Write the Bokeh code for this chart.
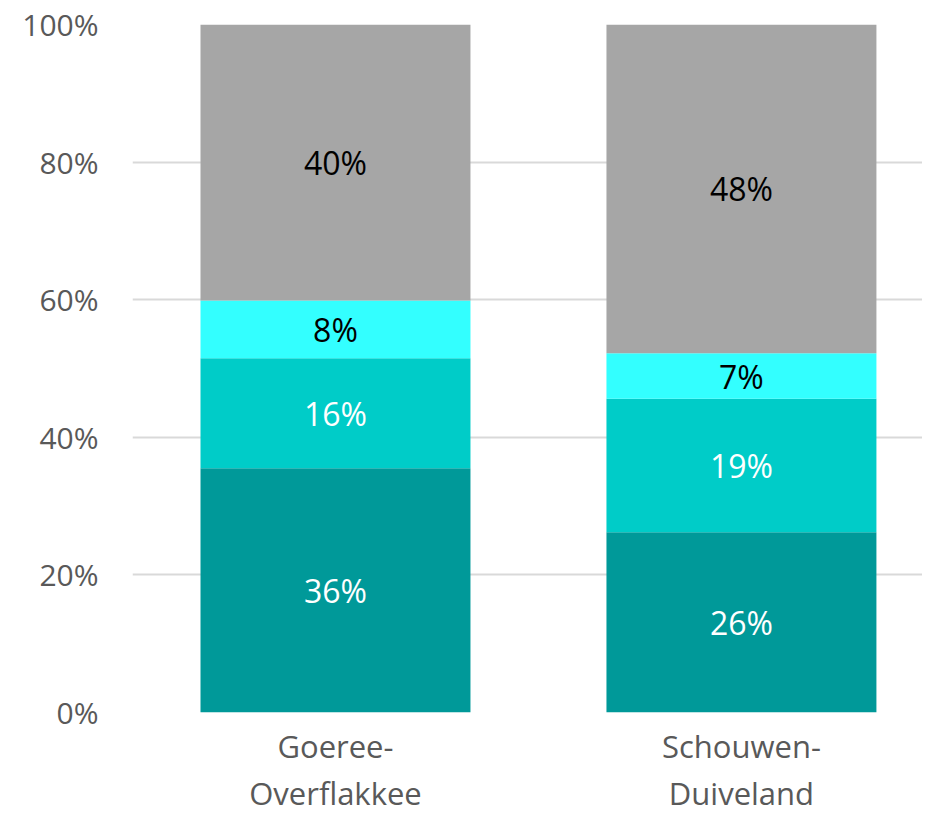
from bokeh.plotting import figure
from bokeh.models import ColumnDataSource, NumeralTickFormatter, FixedTicker, Range1d
from bokeh.core.properties import value
from bokeh.embed import file_html
from bokeh.resources import INLINE

categories = ["Goeree-\nOverflakkee", "Schouwen-\nDuiveland"]
s1 = [0.355, 0.262]
s2 = [0.160, 0.194]
s3 = [0.084, 0.066]
s4 = [0.401, 0.478]
labels1 = ["36%", "26%"]
labels2 = ["16%", "19%"]
labels3 = ["8%", "7%"]
labels4 = ["40%", "48%"]
colors = ["#009999", "#00CCC8", "#33FFFF", "#A6A6A6"]
label_colors = ["white", "white", "black", "black"]
y_ticks = [0, 0.2, 0.4, 0.6, 0.8, 1.0]

FONT = "Open Sans"
series = ["s1", "s2", "s3", "s4"]
xpos = list(range(len(categories)))

p = figure(x_range=Range1d(-0.5, 1.446), y_range=Range1d(0, 1.0),
           width=922, height=816, output_backend="svg", toolbar_location=None,
           min_border_left=132, min_border_right=0, min_border_top=24, min_border_bottom=104)
p.outline_line_color = None
p.background_fill_color = "white"

data = {"x": xpos, "s1": s1, "s2": s2, "s3": s3, "s4": s4}
src = ColumnDataSource(data)
p.vbar_stack(series, x="x", width=0.665, color=colors, source=src, line_color=None)

all_vals = [s1, s2, s3, s4]
all_labels = [labels1, labels2, labels3, labels4]
for i in range(4):
    mids = []
    for j in range(len(categories)):
        base = sum(all_vals[k][j] for k in range(i))
        mids.append(base + all_vals[i][j] / 2)
    p.text(x=xpos, y=mids, text=all_labels[i], text_align="center",
           text_baseline="middle", text_color=label_colors[i],
           text_font=value(FONT), text_font_size="32px")

p.xgrid.grid_line_color = None
p.ygrid.grid_line_color = "#D9D9D9"
p.ygrid.grid_line_width = 2
p.xaxis.ticker = FixedTicker(ticks=xpos)
p.xaxis.major_label_overrides = {i: c for i, c in zip(xpos, categories)}
p.yaxis.ticker = FixedTicker(ticks=y_ticks)
p.yaxis.formatter = NumeralTickFormatter(format="0%")
for ax in (p.xaxis, p.yaxis):
    ax.axis_line_color = None
    ax.major_tick_line_color = None
    ax.minor_tick_line_color = None
    ax.major_label_text_font = FONT
    ax.major_label_text_color = "#595959"
p.yaxis.major_label_text_font_size = "30px"
p.yaxis.major_label_standoff = 28
p.xaxis.major_label_text_font_size = "31px"
p.xaxis.major_label_text_line_height = 1.12
p.xaxis.major_label_standoff = 6

open("out.html", "w").write(file_html(p, INLINE))
